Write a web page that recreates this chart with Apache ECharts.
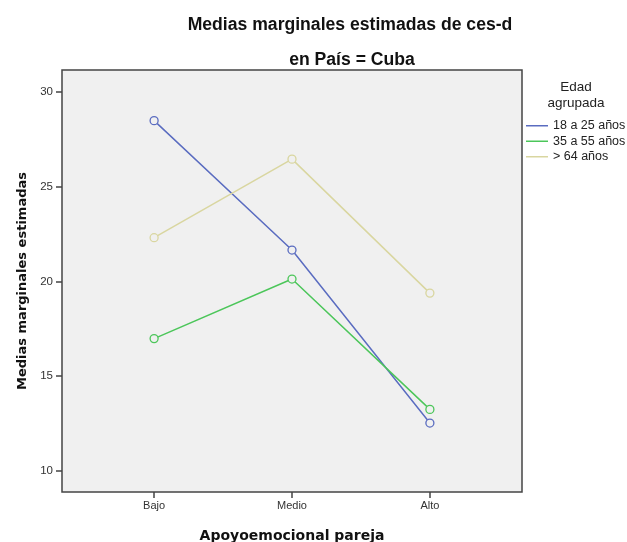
<!DOCTYPE html>
<html>
<head>
<meta charset="utf-8">
<script src="https://cdn.jsdelivr.net/npm/echarts@6/dist/echarts.min.js"></script>
<style>
html, body { margin: 0; padding: 0; background: #fff; }
#main { width: 627px; height: 542px; }
</style>
</head>
<body>
<div id="main"></div>
<script>
// categorías del eje X
var categorias = ['Bajo', 'Medio', 'Alto'];
// medias estimadas por grupo de edad
var grupos = ['18 a 25 años', '35 a 55 años', '> 64 años'];
var edad18a25 = [28.47, 21.65, 12.53];
var edad35a55 = [16.98, 20.12, 13.25];
var edadMas64 = [22.30, 26.44, 19.38];
var ticksY = [10, 15, 20, 25, 30];
var colores = ['#5a6cc0', '#4cc65a', '#d9d6a0'];

function puntos(valores) {
    return valores.map(function (v, i) { return [i, v]; });
}

var chart = echarts.init(document.getElementById('main'));
var font = 'Liberation Sans, Arial, sans-serif';

var option = {
    backgroundColor: '#ffffff',
    title: [
        {
            text: 'Medias marginales estimadas de ces-d',
            left: 345, top: 11, textAlign: 'center',
            textStyle: { fontFamily: font, fontSize: 17.6, fontWeight: 'bold', color: '#111' }
        },
        {
            text: 'en País = Cuba',
            left: 347, top: 46, textAlign: 'center',
            textStyle: { fontFamily: font, fontSize: 17.6, fontWeight: 'bold', color: '#111' }
        },
        {
            text: 'Edad\nagrupada',
            left: 571, top: 74, textAlign: 'center',
            textStyle: { fontFamily: font, fontSize: 13.5, fontWeight: 'normal', color: '#222', lineHeight: 16 }
        }
    ],
    legend: {
        orient: 'vertical',
        left: 521, top: 113,
        icon: 'rect',
        itemWidth: 22, itemHeight: 1.5,
        itemGap: 0,
        itemStyle: { borderWidth: 0 },
        data: grupos.map(function (g, i) {
            return { name: g, itemStyle: { color: colores[i], borderWidth: 0 } };
        }),
        textStyle: { fontFamily: font, fontSize: 12.5, color: '#222', height: 15.5, lineHeight: 15.5 }
    },
    grid: {
        left: 62, right: 105, top: 70, bottom: 50,
        outerBoundsMode: 'none',
        show: true, backgroundColor: '#f0f0f0',
        borderColor: '#444', borderWidth: 1.5
    },
    xAxis: {
        type: 'value',
        min: -0.668, max: 2.668,
        name: 'Apoyoemocional pareja',
        nameLocation: 'middle', nameGap: 37,
        nameTextStyle: { fontFamily: 'DejaVu Sans', fontSize: 14, fontWeight: 'bold', color: '#111' },
        axisLine: { show: false, onZero: false },
        splitLine: { show: false },
        axisTick: { show: true, length: 6, customValues: [0, 1, 2], lineStyle: { color: '#444', width: 1.5 } },
        axisLabel: {
            customValues: [0, 1, 2],
            fontFamily: font, fontSize: 11, color: '#333', margin: 8,
            formatter: function (v) { return categorias[Math.round(v)]; }
        }
    },
    yAxis: {
        type: 'value',
        min: 8.895, max: 31.14,
        name: 'Medias marginales estimadas',
        nameLocation: 'middle', nameGap: 32, nameRotate: 90,
        nameTextStyle: { fontFamily: 'DejaVu Sans', fontSize: 13, fontWeight: 'bold', color: '#111' },
        axisLine: { show: false, onZero: false },
        splitLine: { show: false },
        axisTick: { show: true, length: 6, customValues: ticksY, lineStyle: { color: '#444', width: 1.5 } },
        axisLabel: {
            customValues: ticksY,
            fontFamily: font, fontSize: 11.5, color: '#333', margin: 9
        }
    },
    series: [
        { name: grupos[0], data: puntos(edad18a25) },
        { name: grupos[1], data: puntos(edad35a55) },
        { name: grupos[2], data: puntos(edadMas64) }
    ].map(function (s, i) {
        return {
            name: s.name,
            type: 'line',
            data: s.data,
            symbol: 'circle',
            symbolSize: 8,
            lineStyle: { width: 1.5, color: colores[i] },
            itemStyle: { color: '#f0f0f0', borderColor: colores[i], borderWidth: 1.3 },
            animation: false
        };
    })
};

chart.setOption(option);
</script>
</body>
</html>
